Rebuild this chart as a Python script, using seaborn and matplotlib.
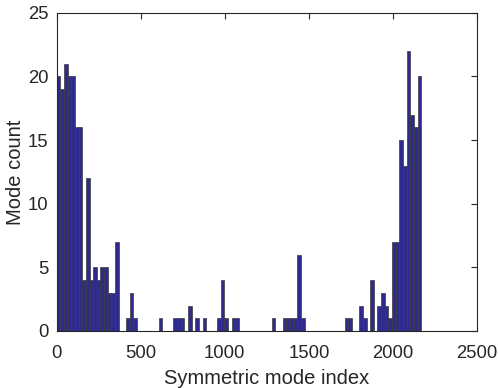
import numpy as np
import pandas as pd
import seaborn as sns
import matplotlib
matplotlib.use("Agg")
import matplotlib.pyplot as plt

# Histogram of symmetric mode indices: 100 bins between data min and max
data_min = 1
data_max = 2168
n_bins = 100
counts = [20, 19, 21, 20, 20, 16, 16, 4, 12, 4,
          5, 4, 5, 5, 3, 3, 7, 0, 0, 1,
          3, 1, 0, 0, 0, 0, 0, 0, 1, 0,
          0, 0, 1, 1, 1, 0, 2, 0, 1, 0,
          1, 0, 0, 0, 1, 4, 1, 0, 1, 1,
          0, 0, 0, 0, 0, 0, 0, 0, 0, 1,
          0, 0, 1, 1, 1, 1, 6, 1, 0, 0,
          0, 0, 0, 0, 0, 0, 0, 0, 0, 1,
          1, 0, 0, 2, 1, 0, 4, 0, 2, 3,
          2, 1, 7, 7, 15, 13, 22, 17, 16, 20]
x_ticks = [0, 500, 1000, 1500, 2000, 2500]
y_ticks = [0, 5, 10, 15, 20, 25]
x_label = "Symmetric mode index"
y_label = "Mode count"

edges = np.linspace(data_min, data_max, n_bins + 1)
centers = (edges[:-1] + edges[1:]) / 2
df = pd.DataFrame({"index": centers, "count": np.array(counts, dtype=float)})

sns.set_style("white")
plt.rcParams['font.family'] = ['Liberation Sans', 'DejaVu Sans']

fig = plt.figure(figsize=(4.98, 3.88), dpi=100)
ax = fig.add_axes([0.1135, 0.147, 0.8445, 0.82])

sns.histplot(data=df, x="index", weights="count", bins=n_bins,
             binrange=(data_min, data_max), ax=ax,
             color="#2f2a8e", alpha=1.0, edgecolor="#3a3a3a", linewidth=0.5)

ax.set_xlim(0, 2500)
ax.set_ylim(0, 25)
ax.set_xticks(x_ticks)
ax.set_yticks(y_ticks)
ax.set_xlabel(x_label, fontsize=14.5, color="#262626", labelpad=5)
ax.set_ylabel(y_label, fontsize=14.5, color="#262626", labelpad=2)
ax.tick_params(direction="in", top=True, right=True, labelsize=13.3,
               length=4, width=0.8, colors="#262626")
ax.tick_params(axis="x", pad=10)
ax.tick_params(axis="y", pad=6)
for s in ax.spines.values():
    s.set_visible(True)
    s.set_color("#262626")
    s.set_linewidth(0.8)

fig.savefig("out.png", dpi=100)
